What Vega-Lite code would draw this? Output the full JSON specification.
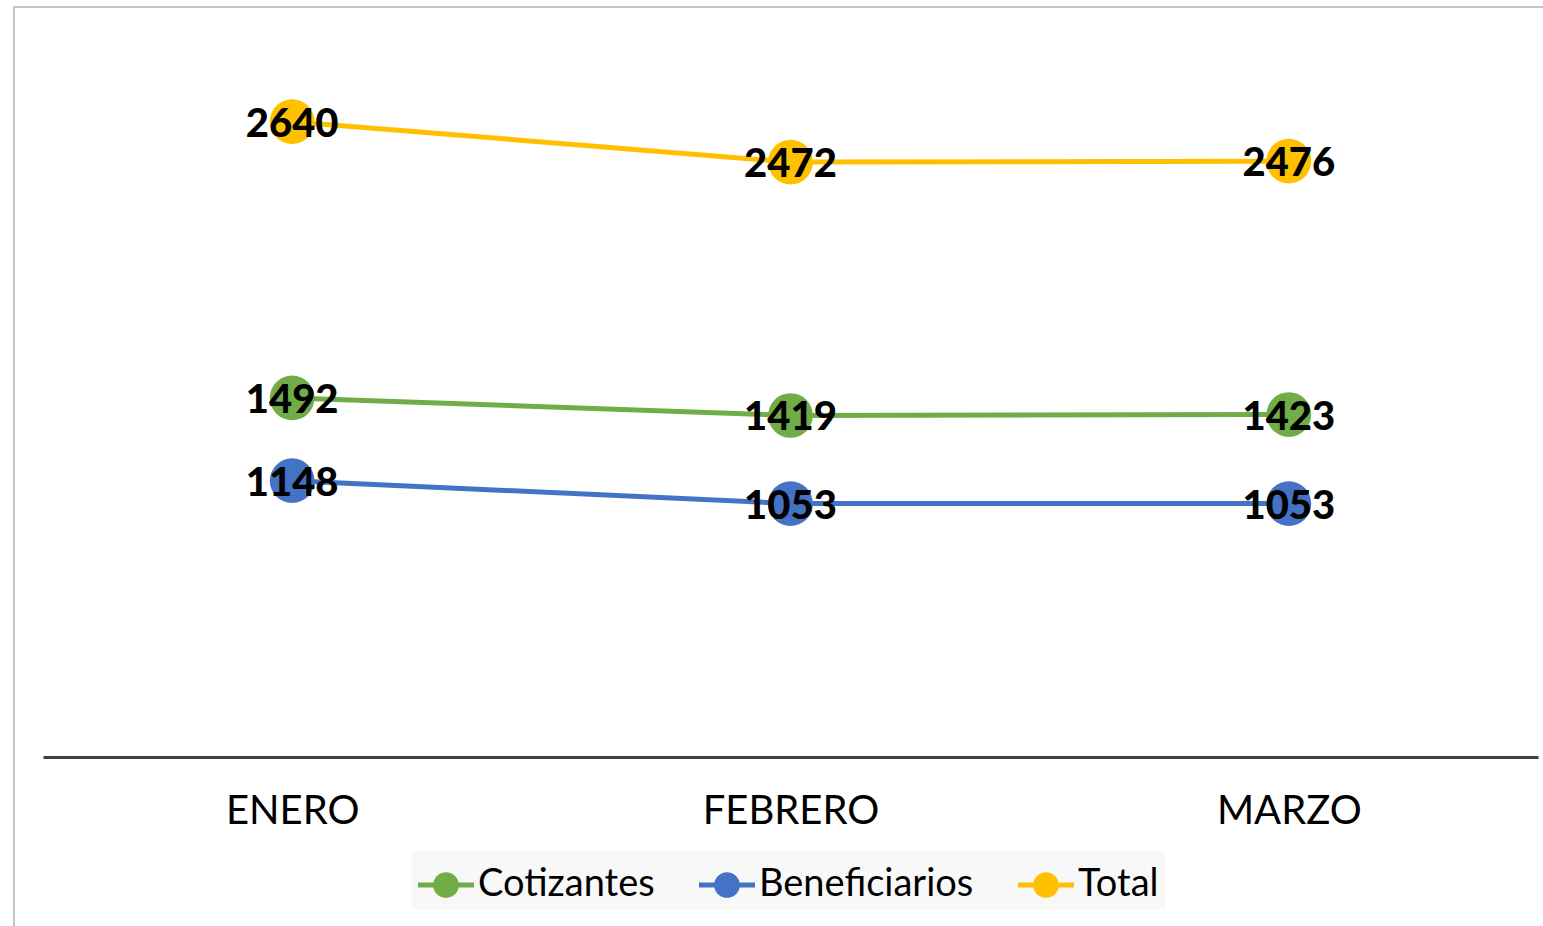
{
  "$schema": "https://vega.github.io/schema/vega-lite/v6.json",
  "width": 1545,
  "height": 935,
  "autosize": {"type": "none"},
  "padding": {"left": 14, "top": 7, "right": 0, "bottom": 0},
  "background": "white",
  "config": {"view": {"stroke": "#c4c4c4", "strokeWidth": 2}, "font": "Lato"},
  "data": {
    "values": [
      {"mes": "ENERO", "serie": "Cotizantes", "valor": 1492},
      {"mes": "FEBRERO", "serie": "Cotizantes", "valor": 1419},
      {"mes": "MARZO", "serie": "Cotizantes", "valor": 1423},
      {"mes": "ENERO", "serie": "Beneficiarios", "valor": 1148},
      {"mes": "FEBRERO", "serie": "Beneficiarios", "valor": 1053},
      {"mes": "MARZO", "serie": "Beneficiarios", "valor": 1053},
      {"mes": "ENERO", "serie": "Total", "valor": 2640},
      {"mes": "FEBRERO", "serie": "Total", "valor": 2472},
      {"mes": "MARZO", "serie": "Total", "valor": 2476}
    ]
  },
  "encoding": {
    "x": {
      "field": "mes",
      "type": "ordinal",
      "sort": ["ENERO", "FEBRERO", "MARZO"],
      "scale": {"type": "point", "range": [29, 1524], "padding": 0.5},
      "axis": {
        "title": null,
        "orient": "bottom",
        "offset": -185,
        "domainColor": "#404040",
        "domainWidth": 3,
        "ticks": false,
        "grid": false,
        "labelAngle": 0,
        "labelFont": "Lato",
        "labelFontSize": 40,
        "labelColor": "#000000",
        "labelPadding": 34,
        "labelBaseline": "top"
      }
    },
    "y": {
      "field": "valor",
      "type": "quantitative",
      "scale": {"domain": [0, 3000], "range": [750, 28]},
      "axis": null
    },
    "color": {
      "field": "serie",
      "type": "nominal",
      "sort": ["Cotizantes", "Beneficiarios", "Total"],
      "scale": {
        "domain": ["Cotizantes", "Beneficiarios", "Total"],
        "range": ["#70AD47", "#4472C4", "#FFC000"]
      },
      "legend": {
        "title": null,
        "orient": "none",
        "legendX": 398,
        "legendY": 844,
        "direction": "horizontal",
        "columns": 3,
        "symbolType": "M-1,-0.09 H-0.451 A0.46,0.46 0 0 1 0.451,-0.09 H1 V0.09 H0.451 A0.46,0.46 0 0 1 -0.451,0.09 H-1 Z",
        "symbolSize": 3136,
        "symbolStrokeWidth": 0,
        "labelFont": "Lato",
        "labelFontSize": 38,
        "labelColor": "#000000",
        "labelOffset": 4,
        "labelLimit": 0,
        "columnPadding": 44,
        "padding": 6,
        "fillColor": "#f8f8f8",
        "encode": {
          "symbols": {
            "update": {
              "fill": {"scale": "color", "field": "value"},
              "stroke": {"value": "transparent"},
              "opacity": {"value": 1}
            }
          }
        }
      }
    }
  },
  "layer": [
    {"mark": {"type": "line", "strokeWidth": 5}},
    {"mark": {"type": "point", "filled": true, "size": 2000, "opacity": 1}},
    {
      "mark": {"type": "text", "font": "Lato", "fontWeight": 900, "fontSize": 40, "baseline": "middle", "align": "center", "dy": 3},
      "encoding": {"text": {"field": "valor"}, "color": {"value": "#000000"}}
    }
  ]
}
